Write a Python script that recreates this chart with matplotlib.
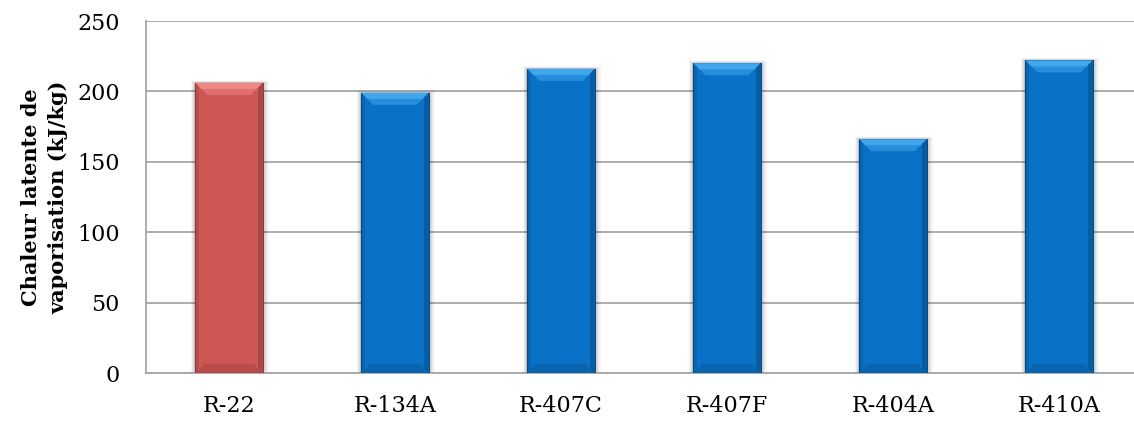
import matplotlib.pyplot as plt
from matplotlib.patches import Polygon, Rectangle

# data
refrigerants = ["R-22", "R-134A", "R-407C", "R-407F", "R-404A", "R-410A"]
latent_heat = [206, 199, 216, 220, 166, 222]
bar_colors = ["#CD5755", "#0A72C6", "#0A72C6", "#0A72C6", "#0A72C6", "#0A72C6"]
top_colors = ["#F28A87", "#45AAF0", "#45AAF0", "#45AAF0", "#45AAF0", "#45AAF0"]
edge_colors = ["#8E3836", "#064A82", "#064A82", "#064A82", "#064A82", "#064A82"]

yticks = [0, 50, 100, 150, 200, 250]

plt.rcParams['font.family'] = ['DejaVu Serif']

fig = plt.figure(figsize=(11.34, 4.21), dpi=100)
# plot area runs past the right edge of the picture, like the original
ax = fig.add_axes([146 / 1134, 48 / 421, 996 / 1134, 352 / 421])

width = 0.405
x = list(range(len(refrigerants)))
ax.set_xlim(-0.5, len(refrigerants) - 0.5)
ax.set_ylim(0, 250)

# data units per pixel, for bevel and shadow
dx = len(refrigerants) / 996.0
dy = 250 / 352.0

for i, v in enumerate(latent_heat):
    # soft shadow around the bar
    for k, a in [(8, 0.04), (6, 0.05), (4, 0.06), (2, 0.09)]:
        ax.add_patch(Rectangle((x[i] - width / 2 - k * dx * 0.6, 0), width + k * dx * 1.4,
                               v + k * dy * 0.3, facecolor="black", alpha=a,
                               edgecolor="none", zorder=2))
    bars = ax.bar(x[i], v, width=width, color=bar_colors[i], edgecolor=edge_colors[i],
                  linewidth=0.8, zorder=3)
    b = bars[0]
    bx, bw, bh = b.get_x(), b.get_width(), b.get_height()
    # top bevel, two tones for a soft gradient
    for ex_px, al in [(12, 0.5), (6, 0.9)]:
        ex, ey = ex_px * dx, ex_px * dy
        ax.add_patch(Polygon([(bx, bh), (bx + bw, bh), (bx + bw - ex, bh - ey), (bx + ex, bh - ey)],
                             closed=True, facecolor=top_colors[i], alpha=al, edgecolor="none", zorder=4))
    ex, ey = 9 * dx, 9 * dy
    # right side darker
    ax.add_patch(Polygon([(bx + bw, bh), (bx + bw, 0), (bx + bw - ex * 0.5, ey * 0.5),
                          (bx + bw - ex * 0.5, bh - ey * 0.5)],
                         closed=True, facecolor=edge_colors[i], alpha=0.55, edgecolor="none", zorder=4))
    # left side slightly darker
    ax.add_patch(Polygon([(bx, bh), (bx, 0), (bx + ex * 0.4, ey * 0.4), (bx + ex * 0.4, bh - ey * 0.4)],
                         closed=True, facecolor=edge_colors[i], alpha=0.3, edgecolor="none", zorder=4))
    # bottom bevel
    ax.add_patch(Polygon([(bx, 0), (bx + bw, 0), (bx + bw - ex, ey), (bx + ex, ey)],
                         closed=True, facecolor=edge_colors[i], alpha=0.35, edgecolor="none", zorder=4))

ax.set_yticks(yticks)
ax.set_xticks(x)
ax.set_xticklabels(refrigerants)
ax.tick_params(axis="both", length=0, labelsize=16, colors="black")
ax.tick_params(axis="x", pad=16)
ax.tick_params(axis="y", pad=19)

ax.yaxis.grid(True, color="#A6A6A6", linewidth=1.3, zorder=0)
ax.set_axisbelow(True)
for s in ["top", "right"]:
    ax.spines[s].set_visible(False)
for s in ["left", "bottom"]:
    ax.spines[s].set_color("#A6A6A6")
    ax.spines[s].set_linewidth(1.3)

ax.set_ylabel("Chaleur latente de\nvaporisation (kJ/kg)", fontsize=15, fontweight="bold",
              labelpad=6, linespacing=1.45)

fig.savefig("out.png", dpi=100)
